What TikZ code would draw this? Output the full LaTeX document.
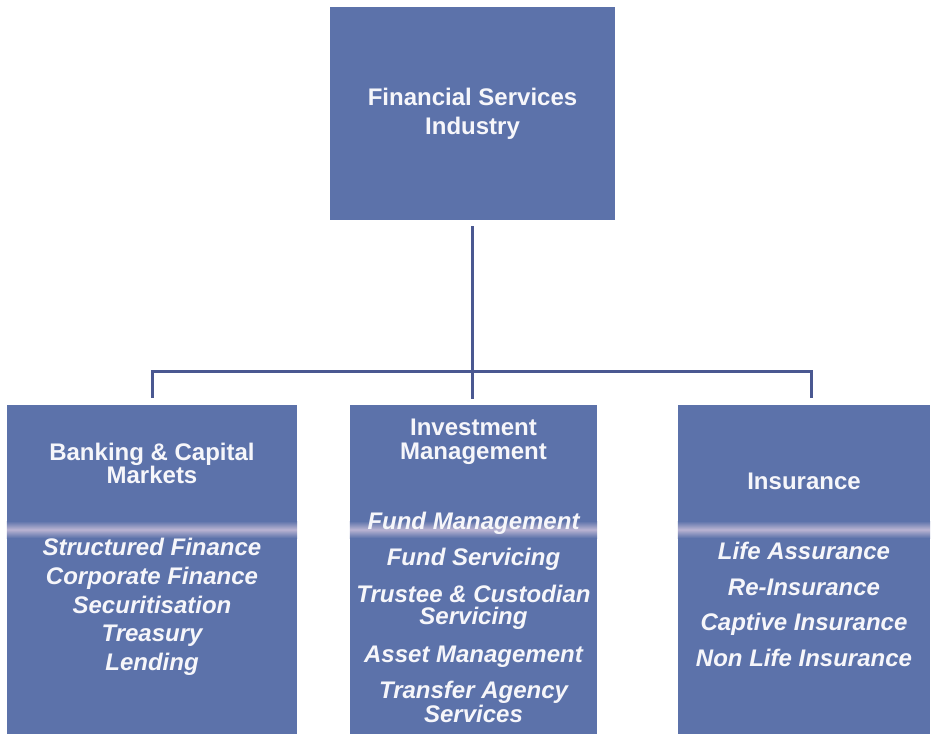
\documentclass[tikz,border=0pt]{standalone}
\usepackage{fontspec}
\setmainfont{Liberation Sans}
\usepackage{tikz}
\usetikzlibrary{positioning}

\definecolor{boxblue}{RGB}{92,114,170}
\definecolor{linkblue}{RGB}{74,88,145}
\definecolor{bandlilac}{RGB}{186,180,210}
\definecolor{paletext}{RGB}{246,246,250}

\begin{document}
\begin{tikzpicture}[x=1pt, y=-1pt,
    sector/.style={fill=boxblue, inner sep=0pt},
    head/.style={inner sep=0pt, align=center, text=paletext,
      font=\bfseries\fontsize{24}{23}\selectfont},
    items/.style={inner sep=0pt, align=center, text=paletext,
      font=\bfseries\itshape\fontsize{24}{22}\selectfont},
    link/.style={draw=linkblue, line width=3pt}]
  \useasboundingbox (0,0) rectangle (936,736);

  % Top box
  \node[sector, minimum width=285pt, minimum height=213pt, head,
        font=\bfseries\fontsize{24}{29}\selectfont] (fsi) at (472.5,113.5)
        {Financial Services\\Industry};

  % Three sector boxes
  \node[sector, minimum width=290pt, minimum height=329pt] (bank) at (152,569.5) {};
  \node[sector, minimum width=247pt, minimum height=329pt] (invest) at (473.5,569.5) {};
  \node[sector, minimum width=252pt, minimum height=329pt] (insur) at (804,569.5) {};

  % Light streak across the boxes
  \coordinate (bandtop) at (0,521);
  \coordinate (bandbot) at (0,538);
  \foreach \b in {bank,invest,insur}
    \shade[top color=boxblue, bottom color=boxblue, middle color=bandlilac]
      (\b.west |- bandtop) rectangle (\b.east |- bandbot);

  % Connectors
  \coordinate (bar) at (0,371);
  \draw[link, shorten <=6pt, shorten >=6pt] (fsi.south) -- (fsi.south |- invest.north);
  \draw[link, shorten <=7pt, shorten >=7pt] (bank.north) -- (bank.north |- bar)
    -- ([xshift=7pt]insur.north |- bar) -- ([xshift=7pt]insur.north);

  % Headings
  \node[head, below=38.2pt of bank.north] (bankhead) {Banking \& Capital\\Markets};
  \node[head, below=14.2pt of invest.north, font=\bfseries\fontsize{24}{24}\selectfont]
    (investhead) {Investment\\Management};
  \node[head, below=68.2pt of insur.north] (insurhead) {Insurance};

  % Activities
  \node[items, below=133.2pt of bank.north, font=\bfseries\itshape\fontsize{24}{28.75}\selectfont]
    (banklist) {Structured Finance\\Corporate Finance\\Securitisation\\Treasury\\Lending};
  \node[items, below=107.2pt of invest.north] (investlist)
    {Fund Management\\[13pt]Fund Servicing\\[13pt]Trustee \& Custodian\\Servicing\\[16pt]%
     Asset Management\\[13pt]Transfer Agency\\Services};
  \node[items, below=137.2pt of insur.north, font=\bfseries\itshape\fontsize{24}{35.5}\selectfont]
    (insurlist) {Life Assurance\\Re-Insurance\\Captive Insurance\\Non Life Insurance};
\end{tikzpicture}
\end{document}
